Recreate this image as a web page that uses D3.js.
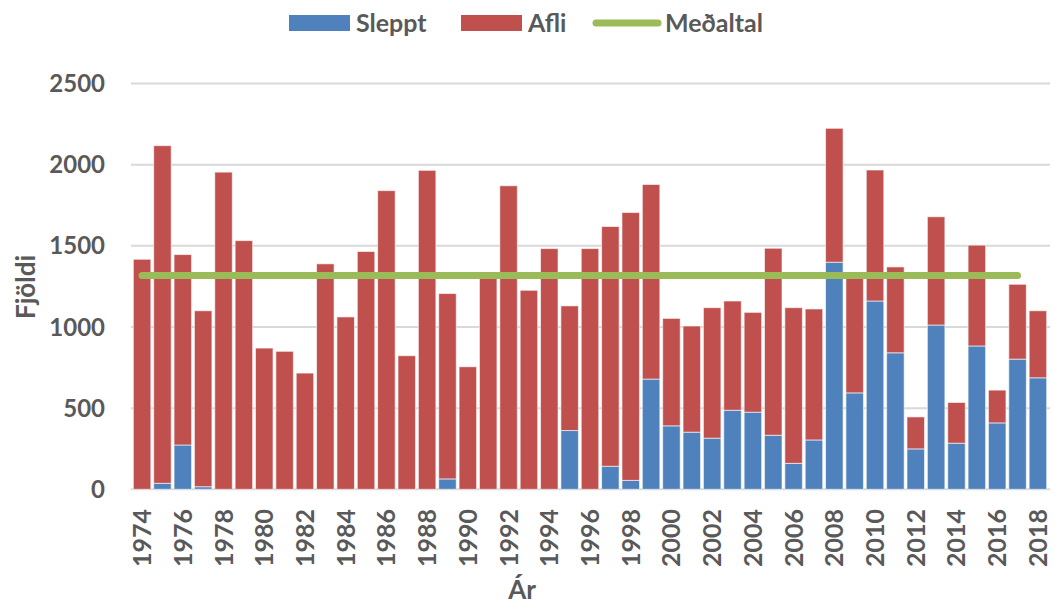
<!DOCTYPE html>
<html>
<head>
<meta charset="utf-8">
<script src="https://cdn.jsdelivr.net/npm/d3@7"></script>
<style>
  body { margin: 0; background: #fff; }
  text { font-family: Lato, "Open Sans", sans-serif; font-weight: bold; fill: #595959; }
</style>
</head>
<body>
<div id="chart"></div>
<script>
// categories (years)
var years = [1974, 1975, 1976, 1977, 1978, 1979, 1980, 1981, 1982, 1983, 1984, 1985, 1986, 1987, 1988,
             1989, 1990, 1991, 1992, 1993, 1994, 1995, 1996, 1997, 1998,
             1999, 2000, 2001, 2002, 2003, 2004, 2005, 2006, 2007, 2008,
             2009, 2010, 2011, 2012, 2013, 2014, 2015, 2016, 2017, 2018];
// released fish (bottom of stack)
var sleppt = [0, 37, 273, 16, 0, 0, 0, 0, 0, 0, 0, 0, 0, 0, 0,
              64, 0, 0, 0, 0, 0, 362, 0, 142, 55,
              679, 391, 352, 315, 487, 475, 333, 160, 304, 1399,
              594, 1160, 841, 249, 1012, 284, 883, 409, 802, 687];
// catch (top of stack)
var afli = [1417, 2080, 1173, 1084, 1954, 1532, 870, 850, 716, 1389, 1062, 1465, 1840, 823, 1965,
            1142, 755, 1300, 1870, 1226, 1483, 768, 1483, 1477, 1650,
            1199, 662, 654, 804, 673, 615, 1152, 959, 807, 825,
            726, 807, 529, 197, 667, 251, 621, 202, 461, 413];
// average line, drawn from first to last year it covers
var medaltal = 1317;
var medaltalYears = [1974, 2017];
var yTicks = [0, 500, 1000, 1500, 2000, 2500];
var xTickYears = years.filter(function (d, i) { return i % 2 == 0; });

var colors = { sleppt: "#4F81BD", afli: "#C0504D", medaltal: "#9BBB59" };

var width = 1054, height = 607;
var svg = d3.select("#chart").append("svg")
    .attr("width", width)
    .attr("height", height);

var x = d3.scaleBand()
    .domain(years)
    .range([131.9, 1048.1])
    .paddingInner(0.14)
    .paddingOuter(0.07);

var y = d3.scaleLinear()
    .domain([0, 2500])
    .range([489.3, 83.5]);

// gridlines
svg.append("g")
    .selectAll("line")
    .data(yTicks)
    .enter().append("line")
    .attr("x1", 131)
    .attr("x2", 1050)
    .attr("y1", function (d) { return y(d); })
    .attr("y2", function (d) { return y(d); })
    .attr("stroke", "#d9d9d9")
    .attr("stroke-width", 2);

// y tick labels
svg.append("g")
    .selectAll("text")
    .data(yTicks)
    .enter().append("text")
    .attr("x", 105)
    .attr("y", function (d) { return y(d); })
    .attr("dy", "0.36em")
    .attr("text-anchor", "end")
    .style("font-size", "24px")
    .text(function (d) { return d; });

// stacked bars
var stackData = years.map(function (yr, i) {
    return { year: yr, sleppt: sleppt[i], afli: afli[i] };
});
var series = d3.stack().keys(["sleppt", "afli"])(stackData);

svg.append("g")
    .selectAll("g")
    .data(series)
    .enter().append("g")
    .attr("fill", function (d) { return colors[d.key]; })
    .selectAll("rect")
    .data(function (d) { return d.filter(function (v) { return v[1] - v[0] > 0; }); })
    .enter().append("rect")
    .attr("x", function (d) { return x(d.data.year); })
    .attr("width", x.bandwidth())
    .attr("y", function (d) { return y(d[1]); })
    .attr("height", function (d) { return y(d[0]) - y(d[1]); })
    .attr("stroke", "#fff")
    .attr("stroke-opacity", 0.6)
    .attr("stroke-width", 1);

// average line
var lineMean = d3.line()
    .x(function (d) { return x(d) + x.bandwidth() / 2; })
    .y(function () { return y(medaltal); });

svg.append("path")
    .datum(medaltalYears)
    .attr("fill", "none")
    .attr("stroke", colors.medaltal)
    .attr("stroke-width", 7)
    .attr("stroke-linecap", "round")
    .attr("d", lineMean);

// x tick labels, rotated
svg.append("g")
    .selectAll("text")
    .data(xTickYears)
    .enter().append("text")
    .attr("transform", function (d) {
        return "translate(" + (x(d) + x.bandwidth() / 2) + ",509) rotate(-90)";
    })
    .attr("dy", "0.36em")
    .attr("text-anchor", "end")
    .style("font-size", "25px")
    .text(function (d) { return d; });

// axis titles
svg.append("text")
    .attr("transform", "translate(26,287) rotate(-90)")
    .attr("dy", "0.36em")
    .attr("text-anchor", "middle")
    .style("font-size", "26px")
    .text("Fjöldi");

svg.append("text")
    .attr("x", 522)
    .attr("y", 590)
    .attr("dy", "0.36em")
    .attr("text-anchor", "middle")
    .style("font-size", "26px")
    .text("Ár");

// legend
var legend = svg.append("g");
legend.append("rect").attr("x", 289).attr("y", 15).attr("width", 61).attr("height", 16).attr("fill", colors.sleppt);
legend.append("text").attr("x", 356).attr("y", 23).attr("dy", "0.36em").style("font-size", "25px").text("Sleppt");
legend.append("rect").attr("x", 461).attr("y", 15).attr("width", 61).attr("height", 16).attr("fill", colors.afli);
legend.append("text").attr("x", 528).attr("y", 23).attr("dy", "0.36em").style("font-size", "25px").text("Afli");
legend.append("line").attr("x1", 596).attr("x2", 658).attr("y1", 23).attr("y2", 23)
    .attr("stroke", colors.medaltal).attr("stroke-width", 7).attr("stroke-linecap", "round");
legend.append("text").attr("x", 665).attr("y", 23).attr("dy", "0.36em").style("font-size", "25px").text("Meðaltal");
</script>
</body>
</html>
